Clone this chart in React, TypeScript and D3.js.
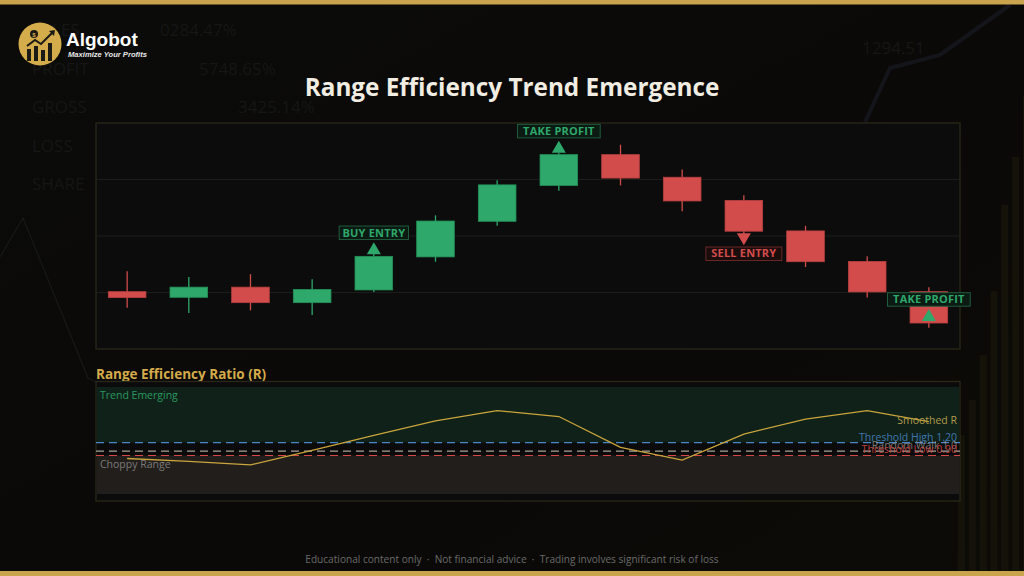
import * as d3 from 'd3';

// canvas
const W = 1024
const H = 576

// price panel and ratio panel boxes
const price = { left: 96, right: 960, top: 123, bottom: 349 }
const ratio = { left: 96, right: 960, top: 381.5, bottom: 501, plotTop: 387, plotBottom: 494 }

const GREEN = '#2ea86b'
const RED = '#d24c4c'
const GOLD = '#d4aa4a'

// data
const sessions = ['S1', 'S2', 'S3', 'S4', 'S5', 'S6', 'S7', 'S8', 'S9', 'S10', 'S11', 'S12', 'S13', 'S14']
const opens = [98.03, 97.83, 98.19, 97.64, 98.09, 99.26, 100.52, 101.79, 102.88, 102.08, 101.26, 100.18, 99.1, 98.03]
const highs = [98.75, 98.55, 98.65, 98.47, 99.36, 100.73, 101.97, 102.95, 103.23, 102.35, 101.44, 100.36, 99.28, 98.19]
const lows = [97.46, 97.27, 97.37, 97.2, 98.02, 99.09, 100.36, 101.6, 101.79, 100.88, 100.05, 98.9, 97.82, 96.75]
const closes = [97.82, 98.19, 97.64, 98.11, 99.28, 100.53, 101.81, 102.88, 102.05, 101.24, 100.17, 99.09, 98.02, 96.92]
const priceTicks = [98, 100, 102]

const smoothedR = [0.83, 0.76, 0.68, 1.02, 1.37, 1.71, 1.95, 1.81, 1.09, 0.79, 1.4, 1.75, 1.95, 1.69]
const thresholdValues = [1.2, 1.0, 0.9]
const thresholdLabels = ['Threshold High 1.20', 'Random Walk 1.0', 'Threshold Low 0.90']
const thresholdColors = ['#4a86c8', '#a8a29a', '#d64848']

// signals
const signalSessions = ['S5', 'S8', 'S11', 'S14']
const signalLabels = ['BUY ENTRY', 'TAKE PROFIT', 'SELL ENTRY', 'TAKE PROFIT']
const signalDirections = ['up', 'up', 'down', 'up']

// faint background decoration
const bgWords = ['SALES', 'PROFIT', 'GROSS', 'LOSS', 'SHARE']
const bgNumbers = ['0284.47%', '5748.65%', '3425.14%']
const bgBars = [88, 110, 138, 178, 232, 262, 300]

const font = "'Open Sans', 'Noto Sans', sans-serif"

const App = () => {
  const x = d3.scaleBand()
    .domain(sessions)
    .range([price.left, price.right])
    .paddingInner(0.39)
    .paddingOuter(0.2)
  const cx = (s: string) => (x(s) ?? 0) + x.bandwidth() / 2

  const y = d3.scaleLinear().domain([96, 104]).range([price.bottom, price.top])
  const yr = d3.scaleLinear().domain([0, 2.5]).range([ratio.plotBottom, ratio.plotTop])

  const rLine = d3.line<number>()
    .x((_, i) => cx(sessions[i]))
    .y(d => yr(d))

  const bgBarX = d3.scaleBand().domain(bgBars.map((_, i) => String(i))).range([958, 1030]).paddingInner(0.35)

  return (
    <svg width={W} height={H} style={{ position: 'fixed', left: 0, top: 0, background: '#0a0908' }}>
      <defs>
        <linearGradient id="bg" x1="0" y1="0" x2="1" y2="1">
          <stop offset="0" stopColor="#0b0b0a" />
          <stop offset="0.6" stopColor="#0a0908" />
          <stop offset="1" stopColor="#0d0b06" />
        </linearGradient>
      </defs>
      <rect width={W} height={H} fill="url(#bg)" />

      {/* background decoration */}
      <g fontFamily={font} fontSize={17} fill="#161615">
        {bgWords.map((w, i) => (
          <text key={w} x={32} y={36 + i * 38.5}>{w}</text>
        ))}
        {bgNumbers.map((n, i) => (
          <text key={n} x={160 + i * 39} y={36 + i * 38.5}>{n}</text>
        ))}
        <text x={862} y={54}>1294.51</text>
      </g>
      <path d="M0,257 L23,218 L88,378 L96,382" fill="none" stroke="#181818" strokeWidth={1.2} />
      <path d="M865,122 L890,68 L940,55 L1010,5" fill="none" stroke="#14151a" strokeWidth={4} />
      <g fill="#151309">
        {bgBars.map((h, i) => (
          <rect key={i} x={bgBarX(String(i))} y={576 - h * 1.6} width={bgBarX.bandwidth()} height={h * 1.6} />
        ))}
      </g>

      {/* gold frame */}
      <rect x={0} y={0} width={W} height={4.5} fill="#c9a44c" />
      <rect x={0} y={571} width={W} height={5} fill="#c9a44c" />

      {/* logo */}
      <g>
        <circle cx={40} cy={44} r={21.5} fill="#d4ac4c" />
        <g fill="#1c1a14">
          <rect x={27} y={49} width={4} height={12} />
          <rect x={34} y={46} width={4} height={15} />
          <rect x={41} y={50} width={4} height={11} />
          <rect x={48} y={43} width={4} height={18} />
          <circle cx={34} cy={34} r={4} />
        </g>
        <path d="M27,46 L35,40 L41,44 L53,32" fill="none" stroke="#1c1a14" strokeWidth={2} />
        <path d="M49,31 L55,30 L54,36 Z" fill="#1c1a14" />
        <text x={34} y={36.5} fontSize={6} fontWeight={700} fill="#d4ac4c" textAnchor="middle" fontFamily="Arial">$</text>
        <text x={66} y={45.5} fontFamily="'Liberation Sans', Arial, sans-serif" fontWeight={700} fontSize={19} fill="#ffffff">Algobot</text>
        <text x={68} y={56.5} fontFamily="'Liberation Sans', Arial, sans-serif" fontWeight={700} fontStyle="italic" fontSize={7.6} fill="#e8e8e8">Maximize Your Profits</text>
      </g>

      {/* title */}
      <text x={512} y={96} textAnchor="middle" fontFamily={font} fontWeight={700} fontSize={24.3} fill="#f1ede2">
        Range Efficiency Trend Emergence
      </text>

      {/* price panel */}
      <rect x={price.left} y={price.top} width={price.right - price.left} height={price.bottom - price.top}
        fill="#0c0c0c" stroke="#2b2719" strokeWidth={1.3} />
      <g stroke="#1c1c1a" strokeWidth={1}>
        {priceTicks.map(t => (
          <line key={t} x1={price.left} x2={price.right} y1={y(t)} y2={y(t)} />
        ))}
      </g>

      {sessions.map((s, i) => {
        const up = closes[i] >= opens[i]
        const c = up ? GREEN : RED
        const top = y(Math.max(opens[i], closes[i]))
        const bot = y(Math.min(opens[i], closes[i]))
        return (
          <g key={s}>
            <line x1={cx(s)} x2={cx(s)} y1={y(highs[i])} y2={y(lows[i])} stroke={c} strokeWidth={1.3} />
            <rect x={x(s)} y={top} width={x.bandwidth()} height={Math.max(bot - top, 1)}
              fill={c} stroke={up ? '#249058' : '#b84040'} strokeWidth={0.8} />
          </g>
        )
      })}

      {signalSessions.map((s, k) => {
        const i = sessions.indexOf(s)
        const dir = signalDirections[k]
        const label = signalLabels[k]
        const c = label === 'SELL ENTRY' ? RED : GREEN
        const px = cx(s)
        const anchor = y(closes[i])
        const triH = 12
        const half = 7
        const bw = label.length * 6.7 + 9
        const bh = 13.5
        let tri: string
        let boxY: number
        if (dir === 'up') {
          const base = anchor - 2
          tri = `M${px - half},${base} L${px + half},${base} L${px},${base - triH} Z`
          boxY = base - triH - 2.8 - bh
        } else {
          const base = anchor + 2
          tri = `M${px - half},${base} L${px + half},${base} L${px},${base + triH} Z`
          boxY = base + triH + 1.8
        }
        return (
          <g key={k}>
            <path d={tri} fill={c} />
            <rect x={px - bw / 2} y={boxY} width={bw} height={bh}
              fill={c === GREEN ? '#0b1a12' : '#1c0d0d'} stroke={c === GREEN ? '#1f5c3c' : '#6a2626'} strokeWidth={1} />
            <text x={px} y={boxY + bh - 3} textAnchor="middle" fontFamily={font} fontWeight={700}
              fontSize={11} letterSpacing={0.2} fill={c}>{label}</text>
          </g>
        )
      })}

      {/* ratio panel */}
      <text x={96} y={378.5} fontFamily={font} fontWeight={700} fontSize={13.5} fill={GOLD}>Range Efficiency Ratio (R)</text>
      <rect x={ratio.left} y={ratio.top} width={ratio.right - ratio.left} height={ratio.bottom - ratio.top}
        fill="#0b0b0b" stroke="#2b2719" strokeWidth={1.3} />
      <rect x={ratio.left + 0.7} y={yr(2.5)} width={ratio.right - ratio.left - 1.4} height={yr(1.2) - yr(2.5)} fill="#102119" />
      <rect x={ratio.left + 0.7} y={yr(0.9)} width={ratio.right - ratio.left - 1.4} height={yr(0) - yr(0.9)} fill="#211e1c" />

      {thresholdValues.map((v, i) => (
        <line key={v} x1={ratio.left} x2={ratio.right} y1={yr(v)} y2={yr(v)}
          stroke={thresholdColors[i]} strokeWidth={1.2} strokeDasharray="8,5" />
      ))}

      <path d={rLine(smoothedR) ?? ''} fill="none" stroke="#c9a53c" strokeWidth={1.3} />

      <g fontFamily={font} fontSize={10.5}>
        <text x={100} y={399} fill="#2a9a60">Trend Emerging</text>
        <text x={100} y={468} fill="#7c7a78">Choppy Range</text>
        <text x={957} y={yr(smoothedR[smoothedR.length - 1]) + 2.5} textAnchor="end" fill="#b09a4c">Smoothed R</text>
        {thresholdValues.map((v, i) => (
          <text key={v} x={957} y={yr(v) - 2} textAnchor="end" fill={thresholdColors[i]} opacity={i === 1 ? 0.7 : 0.85}>
            {thresholdLabels[i]}
          </text>
        ))}
      </g>

      {/* footer */}
      <text x={512} y={562.5} textAnchor="middle" fontFamily={font} fontSize={10.1} fill="#6a6a6a" style={{ whiteSpace: 'pre' }}>
        {'Educational content only  ·  Not financial advice  ·  Trading involves significant risk of loss'}
      </text>
    </svg>
  )
}

export default App
